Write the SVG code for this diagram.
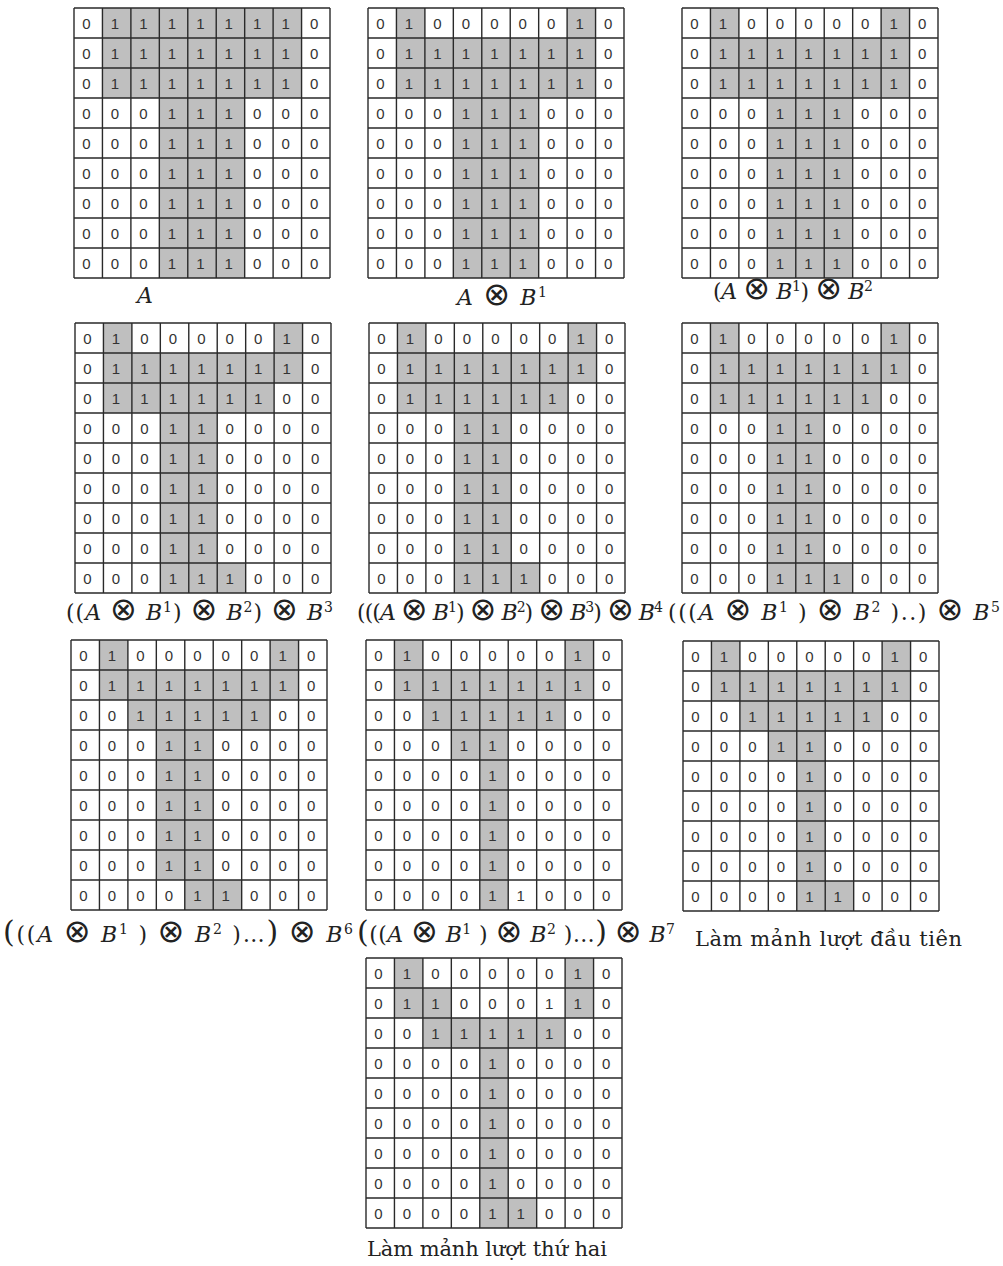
<svg xmlns="http://www.w3.org/2000/svg" xmlns:xlink="http://www.w3.org/1999/xlink" width="1003" height="1266" viewBox="0 0 1003 1266">
<style>
.d{font-family:"Liberation Sans",Arial,sans-serif;font-size:15px;fill:#333;text-anchor:middle}
.m{font-family:"DejaVu Serif","Liberation Serif",serif;font-size:22px;fill:#222}
.i{font-style:italic}
.s{font-size:14px}
.o{font-family:"DejaVu Sans",sans-serif;font-size:32px}
.bp{font-size:30px}
.v{font-family:"DejaVu Serif","Liberation Serif",serif;font-size:21px;fill:#222}
.sh{fill:#bfbfbf}
.gl{fill:none;stroke:#2a2a2a;stroke-width:1.4}
</style>
<defs>
<path id="gl" class="gl" d="M0 0V270M28.44 0V270M56.89 0V270M85.33 0V270M113.78 0V270M142.22 0V270M170.67 0V270M199.11 0V270M227.56 0V270M256 0V270M0 0H256M0 30H256M0 60H256M0 90H256M0 120H256M0 150H256M0 180H256M0 210H256M0 240H256M0 270H256"/>
</defs>
<rect width="1003" height="1266" fill="#fff"/>

<g id="grid1" transform="translate(74,8)">
<rect class="sh" x="28.44" y="0" width="199.11" height="90"/>
<rect class="sh" x="85.33" y="90" width="85.33" height="180"/>
<use xlink:href="#gl"/>
<g class="d">
<g transform="translate(0,20.5)"><text x="12.5">0</text><text x="40.9">1</text><text x="69.4">1</text><text x="97.8">1</text><text x="126.3">1</text><text x="154.7">1</text><text x="183.2">1</text><text x="211.6">1</text><text x="240.1">0</text></g>
<g transform="translate(0,50.5)"><text x="12.5">0</text><text x="40.9">1</text><text x="69.4">1</text><text x="97.8">1</text><text x="126.3">1</text><text x="154.7">1</text><text x="183.2">1</text><text x="211.6">1</text><text x="240.1">0</text></g>
<g transform="translate(0,80.5)"><text x="12.5">0</text><text x="40.9">1</text><text x="69.4">1</text><text x="97.8">1</text><text x="126.3">1</text><text x="154.7">1</text><text x="183.2">1</text><text x="211.6">1</text><text x="240.1">0</text></g>
<g transform="translate(0,110.5)"><text x="12.5">0</text><text x="40.9">0</text><text x="69.4">0</text><text x="97.8">1</text><text x="126.3">1</text><text x="154.7">1</text><text x="183.2">0</text><text x="211.6">0</text><text x="240.1">0</text></g>
<g transform="translate(0,140.5)"><text x="12.5">0</text><text x="40.9">0</text><text x="69.4">0</text><text x="97.8">1</text><text x="126.3">1</text><text x="154.7">1</text><text x="183.2">0</text><text x="211.6">0</text><text x="240.1">0</text></g>
<g transform="translate(0,170.5)"><text x="12.5">0</text><text x="40.9">0</text><text x="69.4">0</text><text x="97.8">1</text><text x="126.3">1</text><text x="154.7">1</text><text x="183.2">0</text><text x="211.6">0</text><text x="240.1">0</text></g>
<g transform="translate(0,200.5)"><text x="12.5">0</text><text x="40.9">0</text><text x="69.4">0</text><text x="97.8">1</text><text x="126.3">1</text><text x="154.7">1</text><text x="183.2">0</text><text x="211.6">0</text><text x="240.1">0</text></g>
<g transform="translate(0,230.5)"><text x="12.5">0</text><text x="40.9">0</text><text x="69.4">0</text><text x="97.8">1</text><text x="126.3">1</text><text x="154.7">1</text><text x="183.2">0</text><text x="211.6">0</text><text x="240.1">0</text></g>
<g transform="translate(0,260.5)"><text x="12.5">0</text><text x="40.9">0</text><text x="69.4">0</text><text x="97.8">1</text><text x="126.3">1</text><text x="154.7">1</text><text x="183.2">0</text><text x="211.6">0</text><text x="240.1">0</text></g>
</g>
</g>

<g id="grid2" transform="translate(368,8)">
<rect class="sh" x="28.44" y="0" width="28.44" height="30"/>
<rect class="sh" x="199.11" y="0" width="28.44" height="30"/>
<rect class="sh" x="28.44" y="30" width="199.11" height="60"/>
<rect class="sh" x="85.33" y="90" width="85.33" height="180"/>
<use xlink:href="#gl"/>
<g class="d">
<g transform="translate(0,20.5)"><text x="12.5">0</text><text x="40.9">1</text><text x="69.4">0</text><text x="97.8">0</text><text x="126.3">0</text><text x="154.7">0</text><text x="183.2">0</text><text x="211.6">1</text><text x="240.1">0</text></g>
<g transform="translate(0,50.5)"><text x="12.5">0</text><text x="40.9">1</text><text x="69.4">1</text><text x="97.8">1</text><text x="126.3">1</text><text x="154.7">1</text><text x="183.2">1</text><text x="211.6">1</text><text x="240.1">0</text></g>
<g transform="translate(0,80.5)"><text x="12.5">0</text><text x="40.9">1</text><text x="69.4">1</text><text x="97.8">1</text><text x="126.3">1</text><text x="154.7">1</text><text x="183.2">1</text><text x="211.6">1</text><text x="240.1">0</text></g>
<g transform="translate(0,110.5)"><text x="12.5">0</text><text x="40.9">0</text><text x="69.4">0</text><text x="97.8">1</text><text x="126.3">1</text><text x="154.7">1</text><text x="183.2">0</text><text x="211.6">0</text><text x="240.1">0</text></g>
<g transform="translate(0,140.5)"><text x="12.5">0</text><text x="40.9">0</text><text x="69.4">0</text><text x="97.8">1</text><text x="126.3">1</text><text x="154.7">1</text><text x="183.2">0</text><text x="211.6">0</text><text x="240.1">0</text></g>
<g transform="translate(0,170.5)"><text x="12.5">0</text><text x="40.9">0</text><text x="69.4">0</text><text x="97.8">1</text><text x="126.3">1</text><text x="154.7">1</text><text x="183.2">0</text><text x="211.6">0</text><text x="240.1">0</text></g>
<g transform="translate(0,200.5)"><text x="12.5">0</text><text x="40.9">0</text><text x="69.4">0</text><text x="97.8">1</text><text x="126.3">1</text><text x="154.7">1</text><text x="183.2">0</text><text x="211.6">0</text><text x="240.1">0</text></g>
<g transform="translate(0,230.5)"><text x="12.5">0</text><text x="40.9">0</text><text x="69.4">0</text><text x="97.8">1</text><text x="126.3">1</text><text x="154.7">1</text><text x="183.2">0</text><text x="211.6">0</text><text x="240.1">0</text></g>
<g transform="translate(0,260.5)"><text x="12.5">0</text><text x="40.9">0</text><text x="69.4">0</text><text x="97.8">1</text><text x="126.3">1</text><text x="154.7">1</text><text x="183.2">0</text><text x="211.6">0</text><text x="240.1">0</text></g>
</g>
</g>

<g id="grid3" transform="translate(682,8)">
<rect class="sh" x="28.44" y="0" width="28.44" height="30"/>
<rect class="sh" x="199.11" y="0" width="28.44" height="30"/>
<rect class="sh" x="28.44" y="30" width="199.11" height="60"/>
<rect class="sh" x="85.33" y="90" width="85.33" height="180"/>
<use xlink:href="#gl"/>
<g class="d">
<g transform="translate(0,20.5)"><text x="12.5">0</text><text x="40.9">1</text><text x="69.4">0</text><text x="97.8">0</text><text x="126.3">0</text><text x="154.7">0</text><text x="183.2">0</text><text x="211.6">1</text><text x="240.1">0</text></g>
<g transform="translate(0,50.5)"><text x="12.5">0</text><text x="40.9">1</text><text x="69.4">1</text><text x="97.8">1</text><text x="126.3">1</text><text x="154.7">1</text><text x="183.2">1</text><text x="211.6">1</text><text x="240.1">0</text></g>
<g transform="translate(0,80.5)"><text x="12.5">0</text><text x="40.9">1</text><text x="69.4">1</text><text x="97.8">1</text><text x="126.3">1</text><text x="154.7">1</text><text x="183.2">1</text><text x="211.6">1</text><text x="240.1">0</text></g>
<g transform="translate(0,110.5)"><text x="12.5">0</text><text x="40.9">0</text><text x="69.4">0</text><text x="97.8">1</text><text x="126.3">1</text><text x="154.7">1</text><text x="183.2">0</text><text x="211.6">0</text><text x="240.1">0</text></g>
<g transform="translate(0,140.5)"><text x="12.5">0</text><text x="40.9">0</text><text x="69.4">0</text><text x="97.8">1</text><text x="126.3">1</text><text x="154.7">1</text><text x="183.2">0</text><text x="211.6">0</text><text x="240.1">0</text></g>
<g transform="translate(0,170.5)"><text x="12.5">0</text><text x="40.9">0</text><text x="69.4">0</text><text x="97.8">1</text><text x="126.3">1</text><text x="154.7">1</text><text x="183.2">0</text><text x="211.6">0</text><text x="240.1">0</text></g>
<g transform="translate(0,200.5)"><text x="12.5">0</text><text x="40.9">0</text><text x="69.4">0</text><text x="97.8">1</text><text x="126.3">1</text><text x="154.7">1</text><text x="183.2">0</text><text x="211.6">0</text><text x="240.1">0</text></g>
<g transform="translate(0,230.5)"><text x="12.5">0</text><text x="40.9">0</text><text x="69.4">0</text><text x="97.8">1</text><text x="126.3">1</text><text x="154.7">1</text><text x="183.2">0</text><text x="211.6">0</text><text x="240.1">0</text></g>
<g transform="translate(0,260.5)"><text x="12.5">0</text><text x="40.9">0</text><text x="69.4">0</text><text x="97.8">1</text><text x="126.3">1</text><text x="154.7">1</text><text x="183.2">0</text><text x="211.6">0</text><text x="240.1">0</text></g>
</g>
</g>

<g id="grid4" transform="translate(75,323)">
<rect class="sh" x="28.44" y="0" width="28.44" height="30"/>
<rect class="sh" x="199.11" y="0" width="28.44" height="30"/>
<rect class="sh" x="28.44" y="30" width="199.11" height="30"/>
<rect class="sh" x="28.44" y="60" width="170.67" height="30"/>
<rect class="sh" x="85.33" y="90" width="56.89" height="150"/>
<rect class="sh" x="85.33" y="240" width="85.33" height="30"/>
<use xlink:href="#gl"/>
<g class="d">
<g transform="translate(0,20.5)"><text x="12.5">0</text><text x="40.9">1</text><text x="69.4">0</text><text x="97.8">0</text><text x="126.3">0</text><text x="154.7">0</text><text x="183.2">0</text><text x="211.6">1</text><text x="240.1">0</text></g>
<g transform="translate(0,50.5)"><text x="12.5">0</text><text x="40.9">1</text><text x="69.4">1</text><text x="97.8">1</text><text x="126.3">1</text><text x="154.7">1</text><text x="183.2">1</text><text x="211.6">1</text><text x="240.1">0</text></g>
<g transform="translate(0,80.5)"><text x="12.5">0</text><text x="40.9">1</text><text x="69.4">1</text><text x="97.8">1</text><text x="126.3">1</text><text x="154.7">1</text><text x="183.2">1</text><text x="211.6">0</text><text x="240.1">0</text></g>
<g transform="translate(0,110.5)"><text x="12.5">0</text><text x="40.9">0</text><text x="69.4">0</text><text x="97.8">1</text><text x="126.3">1</text><text x="154.7">0</text><text x="183.2">0</text><text x="211.6">0</text><text x="240.1">0</text></g>
<g transform="translate(0,140.5)"><text x="12.5">0</text><text x="40.9">0</text><text x="69.4">0</text><text x="97.8">1</text><text x="126.3">1</text><text x="154.7">0</text><text x="183.2">0</text><text x="211.6">0</text><text x="240.1">0</text></g>
<g transform="translate(0,170.5)"><text x="12.5">0</text><text x="40.9">0</text><text x="69.4">0</text><text x="97.8">1</text><text x="126.3">1</text><text x="154.7">0</text><text x="183.2">0</text><text x="211.6">0</text><text x="240.1">0</text></g>
<g transform="translate(0,200.5)"><text x="12.5">0</text><text x="40.9">0</text><text x="69.4">0</text><text x="97.8">1</text><text x="126.3">1</text><text x="154.7">0</text><text x="183.2">0</text><text x="211.6">0</text><text x="240.1">0</text></g>
<g transform="translate(0,230.5)"><text x="12.5">0</text><text x="40.9">0</text><text x="69.4">0</text><text x="97.8">1</text><text x="126.3">1</text><text x="154.7">0</text><text x="183.2">0</text><text x="211.6">0</text><text x="240.1">0</text></g>
<g transform="translate(0,260.5)"><text x="12.5">0</text><text x="40.9">0</text><text x="69.4">0</text><text x="97.8">1</text><text x="126.3">1</text><text x="154.7">1</text><text x="183.2">0</text><text x="211.6">0</text><text x="240.1">0</text></g>
</g>
</g>

<g id="grid5" transform="translate(369,323)">
<rect class="sh" x="28.44" y="0" width="28.44" height="30"/>
<rect class="sh" x="199.11" y="0" width="28.44" height="30"/>
<rect class="sh" x="28.44" y="30" width="199.11" height="30"/>
<rect class="sh" x="28.44" y="60" width="170.67" height="30"/>
<rect class="sh" x="85.33" y="90" width="56.89" height="150"/>
<rect class="sh" x="85.33" y="240" width="85.33" height="30"/>
<use xlink:href="#gl"/>
<g class="d">
<g transform="translate(0,20.5)"><text x="12.5">0</text><text x="40.9">1</text><text x="69.4">0</text><text x="97.8">0</text><text x="126.3">0</text><text x="154.7">0</text><text x="183.2">0</text><text x="211.6">1</text><text x="240.1">0</text></g>
<g transform="translate(0,50.5)"><text x="12.5">0</text><text x="40.9">1</text><text x="69.4">1</text><text x="97.8">1</text><text x="126.3">1</text><text x="154.7">1</text><text x="183.2">1</text><text x="211.6">1</text><text x="240.1">0</text></g>
<g transform="translate(0,80.5)"><text x="12.5">0</text><text x="40.9">1</text><text x="69.4">1</text><text x="97.8">1</text><text x="126.3">1</text><text x="154.7">1</text><text x="183.2">1</text><text x="211.6">0</text><text x="240.1">0</text></g>
<g transform="translate(0,110.5)"><text x="12.5">0</text><text x="40.9">0</text><text x="69.4">0</text><text x="97.8">1</text><text x="126.3">1</text><text x="154.7">0</text><text x="183.2">0</text><text x="211.6">0</text><text x="240.1">0</text></g>
<g transform="translate(0,140.5)"><text x="12.5">0</text><text x="40.9">0</text><text x="69.4">0</text><text x="97.8">1</text><text x="126.3">1</text><text x="154.7">0</text><text x="183.2">0</text><text x="211.6">0</text><text x="240.1">0</text></g>
<g transform="translate(0,170.5)"><text x="12.5">0</text><text x="40.9">0</text><text x="69.4">0</text><text x="97.8">1</text><text x="126.3">1</text><text x="154.7">0</text><text x="183.2">0</text><text x="211.6">0</text><text x="240.1">0</text></g>
<g transform="translate(0,200.5)"><text x="12.5">0</text><text x="40.9">0</text><text x="69.4">0</text><text x="97.8">1</text><text x="126.3">1</text><text x="154.7">0</text><text x="183.2">0</text><text x="211.6">0</text><text x="240.1">0</text></g>
<g transform="translate(0,230.5)"><text x="12.5">0</text><text x="40.9">0</text><text x="69.4">0</text><text x="97.8">1</text><text x="126.3">1</text><text x="154.7">0</text><text x="183.2">0</text><text x="211.6">0</text><text x="240.1">0</text></g>
<g transform="translate(0,260.5)"><text x="12.5">0</text><text x="40.9">0</text><text x="69.4">0</text><text x="97.8">1</text><text x="126.3">1</text><text x="154.7">1</text><text x="183.2">0</text><text x="211.6">0</text><text x="240.1">0</text></g>
</g>
</g>

<g id="grid6" transform="translate(682,323)">
<rect class="sh" x="28.44" y="0" width="28.44" height="30"/>
<rect class="sh" x="199.11" y="0" width="28.44" height="30"/>
<rect class="sh" x="28.44" y="30" width="199.11" height="30"/>
<rect class="sh" x="28.44" y="60" width="170.67" height="30"/>
<rect class="sh" x="85.33" y="90" width="56.89" height="150"/>
<rect class="sh" x="85.33" y="240" width="85.33" height="30"/>
<use xlink:href="#gl"/>
<g class="d">
<g transform="translate(0,20.5)"><text x="12.5">0</text><text x="40.9">1</text><text x="69.4">0</text><text x="97.8">0</text><text x="126.3">0</text><text x="154.7">0</text><text x="183.2">0</text><text x="211.6">1</text><text x="240.1">0</text></g>
<g transform="translate(0,50.5)"><text x="12.5">0</text><text x="40.9">1</text><text x="69.4">1</text><text x="97.8">1</text><text x="126.3">1</text><text x="154.7">1</text><text x="183.2">1</text><text x="211.6">1</text><text x="240.1">0</text></g>
<g transform="translate(0,80.5)"><text x="12.5">0</text><text x="40.9">1</text><text x="69.4">1</text><text x="97.8">1</text><text x="126.3">1</text><text x="154.7">1</text><text x="183.2">1</text><text x="211.6">0</text><text x="240.1">0</text></g>
<g transform="translate(0,110.5)"><text x="12.5">0</text><text x="40.9">0</text><text x="69.4">0</text><text x="97.8">1</text><text x="126.3">1</text><text x="154.7">0</text><text x="183.2">0</text><text x="211.6">0</text><text x="240.1">0</text></g>
<g transform="translate(0,140.5)"><text x="12.5">0</text><text x="40.9">0</text><text x="69.4">0</text><text x="97.8">1</text><text x="126.3">1</text><text x="154.7">0</text><text x="183.2">0</text><text x="211.6">0</text><text x="240.1">0</text></g>
<g transform="translate(0,170.5)"><text x="12.5">0</text><text x="40.9">0</text><text x="69.4">0</text><text x="97.8">1</text><text x="126.3">1</text><text x="154.7">0</text><text x="183.2">0</text><text x="211.6">0</text><text x="240.1">0</text></g>
<g transform="translate(0,200.5)"><text x="12.5">0</text><text x="40.9">0</text><text x="69.4">0</text><text x="97.8">1</text><text x="126.3">1</text><text x="154.7">0</text><text x="183.2">0</text><text x="211.6">0</text><text x="240.1">0</text></g>
<g transform="translate(0,230.5)"><text x="12.5">0</text><text x="40.9">0</text><text x="69.4">0</text><text x="97.8">1</text><text x="126.3">1</text><text x="154.7">0</text><text x="183.2">0</text><text x="211.6">0</text><text x="240.1">0</text></g>
<g transform="translate(0,260.5)"><text x="12.5">0</text><text x="40.9">0</text><text x="69.4">0</text><text x="97.8">1</text><text x="126.3">1</text><text x="154.7">1</text><text x="183.2">0</text><text x="211.6">0</text><text x="240.1">0</text></g>
</g>
</g>

<g id="grid7" transform="translate(71,640)">
<rect class="sh" x="28.44" y="0" width="28.44" height="30"/>
<rect class="sh" x="199.11" y="0" width="28.44" height="30"/>
<rect class="sh" x="28.44" y="30" width="199.11" height="30"/>
<rect class="sh" x="56.89" y="60" width="142.22" height="30"/>
<rect class="sh" x="85.33" y="90" width="56.89" height="150"/>
<rect class="sh" x="113.78" y="240" width="56.89" height="30"/>
<use xlink:href="#gl"/>
<g class="d">
<g transform="translate(0,20.5)"><text x="12.5">0</text><text x="40.9">1</text><text x="69.4">0</text><text x="97.8">0</text><text x="126.3">0</text><text x="154.7">0</text><text x="183.2">0</text><text x="211.6">1</text><text x="240.1">0</text></g>
<g transform="translate(0,50.5)"><text x="12.5">0</text><text x="40.9">1</text><text x="69.4">1</text><text x="97.8">1</text><text x="126.3">1</text><text x="154.7">1</text><text x="183.2">1</text><text x="211.6">1</text><text x="240.1">0</text></g>
<g transform="translate(0,80.5)"><text x="12.5">0</text><text x="40.9">0</text><text x="69.4">1</text><text x="97.8">1</text><text x="126.3">1</text><text x="154.7">1</text><text x="183.2">1</text><text x="211.6">0</text><text x="240.1">0</text></g>
<g transform="translate(0,110.5)"><text x="12.5">0</text><text x="40.9">0</text><text x="69.4">0</text><text x="97.8">1</text><text x="126.3">1</text><text x="154.7">0</text><text x="183.2">0</text><text x="211.6">0</text><text x="240.1">0</text></g>
<g transform="translate(0,140.5)"><text x="12.5">0</text><text x="40.9">0</text><text x="69.4">0</text><text x="97.8">1</text><text x="126.3">1</text><text x="154.7">0</text><text x="183.2">0</text><text x="211.6">0</text><text x="240.1">0</text></g>
<g transform="translate(0,170.5)"><text x="12.5">0</text><text x="40.9">0</text><text x="69.4">0</text><text x="97.8">1</text><text x="126.3">1</text><text x="154.7">0</text><text x="183.2">0</text><text x="211.6">0</text><text x="240.1">0</text></g>
<g transform="translate(0,200.5)"><text x="12.5">0</text><text x="40.9">0</text><text x="69.4">0</text><text x="97.8">1</text><text x="126.3">1</text><text x="154.7">0</text><text x="183.2">0</text><text x="211.6">0</text><text x="240.1">0</text></g>
<g transform="translate(0,230.5)"><text x="12.5">0</text><text x="40.9">0</text><text x="69.4">0</text><text x="97.8">1</text><text x="126.3">1</text><text x="154.7">0</text><text x="183.2">0</text><text x="211.6">0</text><text x="240.1">0</text></g>
<g transform="translate(0,260.5)"><text x="12.5">0</text><text x="40.9">0</text><text x="69.4">0</text><text x="97.8">0</text><text x="126.3">1</text><text x="154.7">1</text><text x="183.2">0</text><text x="211.6">0</text><text x="240.1">0</text></g>
</g>
</g>

<g id="grid8" transform="translate(366,640)">
<rect class="sh" x="28.44" y="0" width="28.44" height="30"/>
<rect class="sh" x="199.11" y="0" width="28.44" height="30"/>
<rect class="sh" x="28.44" y="30" width="199.11" height="30"/>
<rect class="sh" x="56.89" y="60" width="142.22" height="30"/>
<rect class="sh" x="85.33" y="90" width="56.89" height="30"/>
<rect class="sh" x="113.78" y="120" width="28.44" height="150"/>
<use xlink:href="#gl"/>
<g class="d">
<g transform="translate(0,20.5)"><text x="12.5">0</text><text x="40.9">1</text><text x="69.4">0</text><text x="97.8">0</text><text x="126.3">0</text><text x="154.7">0</text><text x="183.2">0</text><text x="211.6">1</text><text x="240.1">0</text></g>
<g transform="translate(0,50.5)"><text x="12.5">0</text><text x="40.9">1</text><text x="69.4">1</text><text x="97.8">1</text><text x="126.3">1</text><text x="154.7">1</text><text x="183.2">1</text><text x="211.6">1</text><text x="240.1">0</text></g>
<g transform="translate(0,80.5)"><text x="12.5">0</text><text x="40.9">0</text><text x="69.4">1</text><text x="97.8">1</text><text x="126.3">1</text><text x="154.7">1</text><text x="183.2">1</text><text x="211.6">0</text><text x="240.1">0</text></g>
<g transform="translate(0,110.5)"><text x="12.5">0</text><text x="40.9">0</text><text x="69.4">0</text><text x="97.8">1</text><text x="126.3">1</text><text x="154.7">0</text><text x="183.2">0</text><text x="211.6">0</text><text x="240.1">0</text></g>
<g transform="translate(0,140.5)"><text x="12.5">0</text><text x="40.9">0</text><text x="69.4">0</text><text x="97.8">0</text><text x="126.3">1</text><text x="154.7">0</text><text x="183.2">0</text><text x="211.6">0</text><text x="240.1">0</text></g>
<g transform="translate(0,170.5)"><text x="12.5">0</text><text x="40.9">0</text><text x="69.4">0</text><text x="97.8">0</text><text x="126.3">1</text><text x="154.7">0</text><text x="183.2">0</text><text x="211.6">0</text><text x="240.1">0</text></g>
<g transform="translate(0,200.5)"><text x="12.5">0</text><text x="40.9">0</text><text x="69.4">0</text><text x="97.8">0</text><text x="126.3">1</text><text x="154.7">0</text><text x="183.2">0</text><text x="211.6">0</text><text x="240.1">0</text></g>
<g transform="translate(0,230.5)"><text x="12.5">0</text><text x="40.9">0</text><text x="69.4">0</text><text x="97.8">0</text><text x="126.3">1</text><text x="154.7">0</text><text x="183.2">0</text><text x="211.6">0</text><text x="240.1">0</text></g>
<g transform="translate(0,260.5)"><text x="12.5">0</text><text x="40.9">0</text><text x="69.4">0</text><text x="97.8">0</text><text x="126.3">1</text><text x="154.7">1</text><text x="183.2">0</text><text x="211.6">0</text><text x="240.1">0</text></g>
</g>
</g>

<g id="grid9" transform="translate(683,641)">
<rect class="sh" x="28.44" y="0" width="28.44" height="30"/>
<rect class="sh" x="199.11" y="0" width="28.44" height="30"/>
<rect class="sh" x="28.44" y="30" width="199.11" height="30"/>
<rect class="sh" x="56.89" y="60" width="142.22" height="30"/>
<rect class="sh" x="85.33" y="90" width="56.89" height="30"/>
<rect class="sh" x="113.78" y="120" width="28.44" height="150"/>
<rect class="sh" x="142.22" y="240" width="28.44" height="30"/>
<use xlink:href="#gl"/>
<g class="d">
<g transform="translate(0,20.5)"><text x="12.5">0</text><text x="40.9">1</text><text x="69.4">0</text><text x="97.8">0</text><text x="126.3">0</text><text x="154.7">0</text><text x="183.2">0</text><text x="211.6">1</text><text x="240.1">0</text></g>
<g transform="translate(0,50.5)"><text x="12.5">0</text><text x="40.9">1</text><text x="69.4">1</text><text x="97.8">1</text><text x="126.3">1</text><text x="154.7">1</text><text x="183.2">1</text><text x="211.6">1</text><text x="240.1">0</text></g>
<g transform="translate(0,80.5)"><text x="12.5">0</text><text x="40.9">0</text><text x="69.4">1</text><text x="97.8">1</text><text x="126.3">1</text><text x="154.7">1</text><text x="183.2">1</text><text x="211.6">0</text><text x="240.1">0</text></g>
<g transform="translate(0,110.5)"><text x="12.5">0</text><text x="40.9">0</text><text x="69.4">0</text><text x="97.8">1</text><text x="126.3">1</text><text x="154.7">0</text><text x="183.2">0</text><text x="211.6">0</text><text x="240.1">0</text></g>
<g transform="translate(0,140.5)"><text x="12.5">0</text><text x="40.9">0</text><text x="69.4">0</text><text x="97.8">0</text><text x="126.3">1</text><text x="154.7">0</text><text x="183.2">0</text><text x="211.6">0</text><text x="240.1">0</text></g>
<g transform="translate(0,170.5)"><text x="12.5">0</text><text x="40.9">0</text><text x="69.4">0</text><text x="97.8">0</text><text x="126.3">1</text><text x="154.7">0</text><text x="183.2">0</text><text x="211.6">0</text><text x="240.1">0</text></g>
<g transform="translate(0,200.5)"><text x="12.5">0</text><text x="40.9">0</text><text x="69.4">0</text><text x="97.8">0</text><text x="126.3">1</text><text x="154.7">0</text><text x="183.2">0</text><text x="211.6">0</text><text x="240.1">0</text></g>
<g transform="translate(0,230.5)"><text x="12.5">0</text><text x="40.9">0</text><text x="69.4">0</text><text x="97.8">0</text><text x="126.3">1</text><text x="154.7">0</text><text x="183.2">0</text><text x="211.6">0</text><text x="240.1">0</text></g>
<g transform="translate(0,260.5)"><text x="12.5">0</text><text x="40.9">0</text><text x="69.4">0</text><text x="97.8">0</text><text x="126.3">1</text><text x="154.7">1</text><text x="183.2">0</text><text x="211.6">0</text><text x="240.1">0</text></g>
</g>
</g>

<g id="grid10" transform="translate(366,958)">
<rect class="sh" x="28.44" y="0" width="28.44" height="30"/>
<rect class="sh" x="199.11" y="0" width="28.44" height="30"/>
<rect class="sh" x="28.44" y="30" width="56.89" height="30"/>
<rect class="sh" x="199.11" y="30" width="28.44" height="30"/>
<rect class="sh" x="56.89" y="60" width="142.22" height="30"/>
<rect class="sh" x="113.78" y="90" width="28.44" height="180"/>
<rect class="sh" x="142.22" y="240" width="28.44" height="30"/>
<use xlink:href="#gl"/>
<g class="d">
<g transform="translate(0,20.5)"><text x="12.5">0</text><text x="40.9">1</text><text x="69.4">0</text><text x="97.8">0</text><text x="126.3">0</text><text x="154.7">0</text><text x="183.2">0</text><text x="211.6">1</text><text x="240.1">0</text></g>
<g transform="translate(0,50.5)"><text x="12.5">0</text><text x="40.9">1</text><text x="69.4">1</text><text x="97.8">0</text><text x="126.3">0</text><text x="154.7">0</text><text x="183.2">1</text><text x="211.6">1</text><text x="240.1">0</text></g>
<g transform="translate(0,80.5)"><text x="12.5">0</text><text x="40.9">0</text><text x="69.4">1</text><text x="97.8">1</text><text x="126.3">1</text><text x="154.7">1</text><text x="183.2">1</text><text x="211.6">0</text><text x="240.1">0</text></g>
<g transform="translate(0,110.5)"><text x="12.5">0</text><text x="40.9">0</text><text x="69.4">0</text><text x="97.8">0</text><text x="126.3">1</text><text x="154.7">0</text><text x="183.2">0</text><text x="211.6">0</text><text x="240.1">0</text></g>
<g transform="translate(0,140.5)"><text x="12.5">0</text><text x="40.9">0</text><text x="69.4">0</text><text x="97.8">0</text><text x="126.3">1</text><text x="154.7">0</text><text x="183.2">0</text><text x="211.6">0</text><text x="240.1">0</text></g>
<g transform="translate(0,170.5)"><text x="12.5">0</text><text x="40.9">0</text><text x="69.4">0</text><text x="97.8">0</text><text x="126.3">1</text><text x="154.7">0</text><text x="183.2">0</text><text x="211.6">0</text><text x="240.1">0</text></g>
<g transform="translate(0,200.5)"><text x="12.5">0</text><text x="40.9">0</text><text x="69.4">0</text><text x="97.8">0</text><text x="126.3">1</text><text x="154.7">0</text><text x="183.2">0</text><text x="211.6">0</text><text x="240.1">0</text></g>
<g transform="translate(0,230.5)"><text x="12.5">0</text><text x="40.9">0</text><text x="69.4">0</text><text x="97.8">0</text><text x="126.3">1</text><text x="154.7">0</text><text x="183.2">0</text><text x="211.6">0</text><text x="240.1">0</text></g>
<g transform="translate(0,260.5)"><text x="12.5">0</text><text x="40.9">0</text><text x="69.4">0</text><text x="97.8">0</text><text x="126.3">1</text><text x="154.7">1</text><text x="183.2">0</text><text x="211.6">0</text><text x="240.1">0</text></g>
</g>
</g>

<g id="labels">
<text id="label1" class="m" x="145" y="303" text-anchor="middle"><tspan class="i">A</tspan></text>
<text id="label2" class="m" x="457" y="305" textLength="90" lengthAdjust="spacing"><tspan class="i">A</tspan> <tspan class="o">⊗</tspan> <tspan class="i">B</tspan><tspan class="s" dy="-8">1</tspan></text>
<text id="label3" class="m" x="713" y="299" textLength="160" lengthAdjust="spacing">(<tspan class="i">A</tspan> <tspan class="o">⊗</tspan> <tspan class="i">B</tspan><tspan class="s" dy="-8">1</tspan><tspan dy="8">) </tspan><tspan class="o">⊗</tspan> <tspan class="i">B</tspan><tspan class="s" dy="-8">2</tspan></text>
<text id="label4" class="m" x="66" y="620" textLength="267" lengthAdjust="spacing">((<tspan class="i">A</tspan> <tspan class="o">⊗</tspan> <tspan class="i">B</tspan><tspan class="s" dy="-8">1</tspan><tspan dy="8">) </tspan><tspan class="o">⊗</tspan> <tspan class="i">B</tspan><tspan class="s" dy="-8">2</tspan><tspan dy="8">) </tspan><tspan class="o">⊗</tspan> <tspan class="i">B</tspan><tspan class="s" dy="-8">3</tspan></text>
<text id="label5" class="m" x="357" y="620" textLength="306" lengthAdjust="spacing" fill="#444">(((<tspan class="i">A</tspan> <tspan class="o">⊗</tspan> <tspan class="i">B</tspan><tspan class="s" dy="-8">1</tspan><tspan dy="8">) </tspan><tspan class="o">⊗</tspan> <tspan class="i">B</tspan><tspan class="s" dy="-8">2</tspan><tspan dy="8">) </tspan><tspan class="o">⊗</tspan> <tspan class="i">B</tspan><tspan class="s" dy="-8">3</tspan><tspan dy="8">) </tspan><tspan class="o">⊗</tspan> <tspan class="i">B</tspan><tspan class="s" dy="-8">4</tspan></text>
<text id="label6" class="m" x="668" y="620" textLength="332" lengthAdjust="spacing">(((<tspan class="i">A</tspan> <tspan class="o">⊗</tspan> <tspan class="i">B</tspan><tspan class="s" dy="-8">1</tspan><tspan dy="8"> ) </tspan><tspan class="o">⊗</tspan> <tspan class="i">B</tspan><tspan class="s" dy="-8">2</tspan><tspan dy="8"> )..) </tspan><tspan class="o">⊗</tspan> <tspan class="i">B</tspan><tspan class="s" dy="-8">5</tspan></text>
<text id="label7" class="m" x="3" y="942" textLength="350" lengthAdjust="spacing"><tspan class="bp">(</tspan>((<tspan class="i">A</tspan> <tspan class="o">⊗</tspan> <tspan class="i">B</tspan><tspan class="s" dy="-8">1</tspan><tspan dy="8"> ) </tspan><tspan class="o">⊗</tspan> <tspan class="i">B</tspan><tspan class="s" dy="-8">2</tspan><tspan dy="8"> )…</tspan><tspan class="bp">)</tspan> <tspan class="o">⊗</tspan> <tspan class="i">B</tspan><tspan class="s" dy="-8">6</tspan></text>
<text id="label8" class="m" x="357" y="942" textLength="318" lengthAdjust="spacing"><tspan class="bp">(</tspan>((<tspan class="i">A</tspan> <tspan class="o">⊗</tspan> <tspan class="i">B</tspan><tspan class="s" dy="-8">1</tspan><tspan dy="8"> ) </tspan><tspan class="o">⊗</tspan> <tspan class="i">B</tspan><tspan class="s" dy="-8">2</tspan><tspan dy="8"> )…</tspan><tspan class="bp">)</tspan> <tspan class="o">⊗</tspan> <tspan class="i">B</tspan><tspan class="s" dy="-8">7</tspan></text>
<text id="label9" class="v" x="695" y="946" textLength="267" lengthAdjust="spacing">Làm mảnh lượt đầu tiên</text>
<text id="label10" class="v" x="367" y="1256" textLength="240" lengthAdjust="spacing">Làm mảnh lượt thứ hai</text>
</g>
</svg>
